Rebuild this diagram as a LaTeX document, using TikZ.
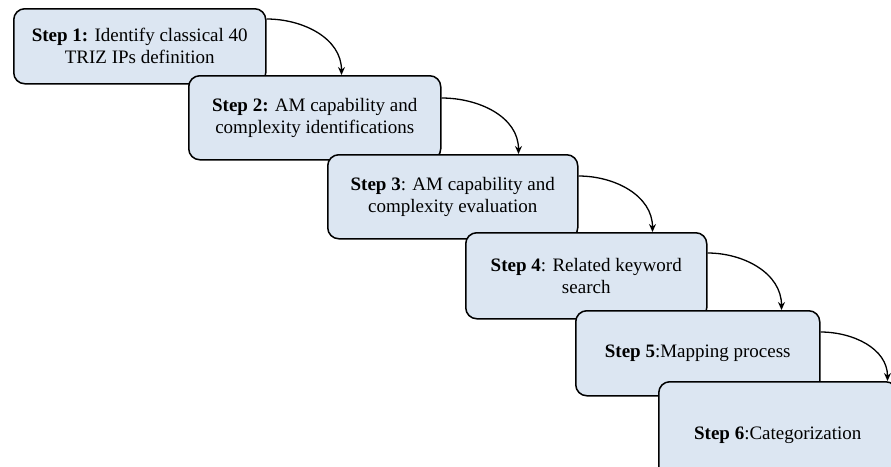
\documentclass[tikz,border=0pt]{standalone}
\usepackage{fontspec}
\setmainfont{Liberation Serif}
\usetikzlibrary{calc,arrows.meta}
\definecolor{boxfill}{RGB}{220,230,242}
\tikzset{
  stepbox/.style={draw=black, line width=1.5pt, fill=boxfill, rounded corners=11pt,
    anchor=north west, align=center, inner sep=0pt,
    font=\fontsize{19}{22}\selectfont},
  flow/.style={line width=1.3pt, -{Stealth[length=8pt,width=7pt]}}
}
\begin{document}
\begin{tikzpicture}[x=1pt,y=1pt]
\useasboundingbox (0,0) rectangle (891,-466);
\clip (0,0) rectangle (891,-466);
\node[stepbox, minimum width=252pt, minimum height=75pt] (s1) at (13,-8)
  {\textbf{Step 1:} Identify classical 40\\TRIZ IPs definition};
\node[stepbox, minimum width=252pt, minimum height=84pt] (s2) at (188,-75)
  {\textbf{Step 2:} AM capability and\\complexity identifications};
\node[stepbox, minimum width=250pt, minimum height=84pt] (s3) at (327,-154)
  {\textbf{Step 3}: AM capability and\\complexity evaluation};
\node[stepbox, minimum width=241pt, minimum height=86pt] (s4) at (465,-232)
  {\textbf{Step 4}: Related keyword\\search};
\node[stepbox, minimum width=244pt, minimum height=85pt] (s5) at (575,-310)
  {\textbf{Step 5}:Mapping process};
\node[stepbox, minimum width=238pt, minimum height=108pt] (s6) at (658,-381)
  {\textbf{Step 6}:Categorization};
\draw[flow] ($(s1.north east)+(0,-11)$) to[out=0,in=90] ($(s1.east |- s2.north)+(75,0)$);
\draw[flow] ($(s2.north east)+(0,-23)$) to[out=0,in=90] ($(s2.east |- s3.north)+(77,0)$);
\draw[flow] ($(s3.north east)+(0,-22)$) to[out=0,in=90] ($(s3.east |- s4.north)+(74,0)$);
\draw[flow] ($(s4.north east)+(0,-21)$) to[out=0,in=90] ($(s4.east |- s5.north)+(74,0)$);
\draw[flow] ($(s5.north east)+(0,-22)$) to[out=0,in=90] ($(s5.east |- s6.north)+(67,0)$);
\end{tikzpicture}
\end{document}
